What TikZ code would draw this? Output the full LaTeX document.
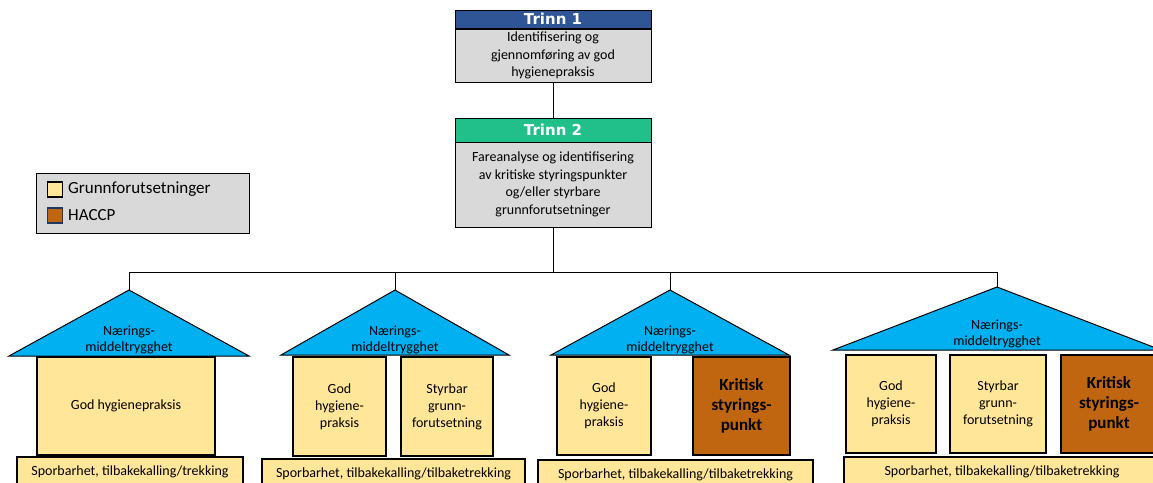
\documentclass[tikz,border=0pt]{standalone}
\usepackage{fontspec}
\setmainfont{Carlito}
\newfontfamily\trinnfont{DejaVu Sans}
\definecolor{trinnblue}{RGB}{47,85,151}
\definecolor{trinngreen}{RGB}{33,192,139}
\definecolor{boxgray}{RGB}{217,217,217}
\definecolor{roofblue}{RGB}{0,176,240}
\definecolor{gpyellow}{RGB}{255,230,153}
\definecolor{ccpbrown}{RGB}{192,102,16}
\definecolor{keynavy}{RGB}{31,56,100}

\begin{document}
\begin{tikzpicture}[x=1pt, y=-1pt,
    header/.style={draw=black, line width=1pt, minimum width=196pt,
        inner sep=0pt, text=white, font=\trinnfont\bfseries\fontsize{15}{16}\selectfont},
    trinnbox/.style={draw=black, line width=1pt, fill=boxgray, minimum width=196pt,
        inner sep=0pt, align=center, font=\fontsize{14}{17.5}\selectfont},
    gpbox/.style={draw=black, line width=1.2pt, fill=gpyellow, inner sep=0pt,
        align=center, font=\fontsize{14}{17}\selectfont},
    ccpbox/.style={draw=black, line width=1.2pt, fill=ccpbrown, inner sep=0pt,
        align=center, font=\bfseries\fontsize{17}{20}\selectfont},
    basebar/.style={draw=black, line width=1.2pt, fill=gpyellow, minimum height=30pt,
        inner sep=0pt, font=\fontsize{14}{17}\selectfont},
    roof/.style={draw=black, line width=1pt, fill=roofblue},
    rooftext/.style={align=center, inner sep=0pt, font=\fontsize{14}{16.5}\selectfont},
    keybox/.style={line width=1.2pt, minimum size=15pt, inner sep=0pt},
    keytext/.style={anchor=west, inner sep=0pt, font=\fontsize{17}{18}\selectfont},
    edge/.style={line width=1pt, -}
]
    \useasboundingbox (0,0) rectangle (1153,482);
    \clip (0,0) rectangle (1153,482);

    \node[header, fill=trinnblue, minimum height=18pt] (t1head) at (553,19) {Trinn 1};
    \node[trinnbox, minimum height=53pt] (t1body) at (553,55.5)
        {Identifisering og\\gjennomføring av god\\hygienepraksis};
    \node[header, fill=trinngreen, minimum height=24pt] (t2head) at (553,130) {Trinn 2};
    \node[trinnbox, minimum height=85pt] (t2body) at (553,184.5)
        {Fareanalyse og identifisering\\av kritiske styringspunkter\\og/eller styrbare\\grunnforutsetninger};

    \node[draw=black, line width=1pt, fill=boxgray, minimum width=213pt,
        minimum height=60pt] (legend) at (142.5,203) {};
    \node[keybox, draw=black, fill=gpyellow] (keygp) at (55,189.5) {};
    \node[keytext] (keygptext) at (68,189.5) {Grunnforutsetninger};
    \node[keybox, draw=keynavy, fill=ccpbrown] (keyccp) at (55,215.5) {};
    \node[keytext] (keyccptext) at (68,215.5) {HACCP};

    \coordinate (hub) at (553,272);
    \coordinate (apex1) at (129,290);
    \coordinate (apex2) at (395,290);
    \coordinate (apex3) at (670,290);
    \coordinate (apex4) at (997,287);

    \draw[roof] (apex1) -- ++(120,66) -- ++(-240,0) -- cycle;
    \draw[roof] (apex2) -- ++(114,65) -- ++(-228,0) -- cycle;
    \draw[roof] (apex3) -- ++(119,65) -- ++(-238,0) -- cycle;
    \draw[roof] (apex4) -- ++(164,63) -- ++(-328,0) -- cycle;

    \node[gpbox, minimum width=178pt, minimum height=98pt] (gp1) at (126,406) {God hygienepraksis};

    \node[gpbox, minimum width=93pt, minimum height=99pt] (gp2) at (339.5,406.5) {God\\hygiene-\\praksis};
    \node[gpbox, minimum width=92pt, minimum height=99pt] (sgp2) at (447,406.5) {Styrbar\\grunn-\\forutsetning};

    \node[gpbox, minimum width=94pt, minimum height=98pt] (gp3) at (604,406) {God\\hygiene-\\praksis};
    \node[ccpbox, minimum width=97pt, minimum height=98pt] (ccp3) at (741.5,406) {Kritisk\\styrings-\\punkt};

    \node[gpbox, minimum width=90pt, minimum height=98pt] (gp4) at (891,404) {God\\hygiene-\\praksis};
    \node[gpbox, minimum width=96pt, minimum height=98pt] (sgp4) at (998,404) {Styrbar\\grunn-\\forutsetning};
    \node[ccpbox, minimum width=96pt, minimum height=98pt] (ccp4) at (1109,404) {Kritisk\\styrings-\\punkt};

    \node[basebar, minimum width=226pt] (bar1) at (130,472) {Sporbarhet, tilbakekalling/trekking};
    \node[basebar, minimum width=263pt] (bar2) at (393.5,474) {Sporbarhet, tilbakekalling/tilbaketrekking};
    \node[basebar, minimum width=275pt] (bar3) at (675.5,475) {Sporbarhet, tilbakekalling/tilbaketrekking};
    \node[basebar, minimum width=316pt] (bar4) at (1002,472) {Sporbarhet, tilbakekalling/tilbaketrekking};

    \node[rooftext] (safe1) at (129,340) {Nærings-\\middeltrygghet};
    \node[rooftext] (safe2) at (395,340) {Nærings-\\middeltrygghet};
    \node[rooftext] (safe3) at (670,340) {Nærings-\\middeltrygghet};
    \node[rooftext] (safe4) at (997,334) {Nærings-\\middeltrygghet};

    \draw[edge] (t1body) -- (t2head);
    \draw[edge] (t2body) -- (hub);
    \draw[edge] (apex1) -- (apex1 |- hub) -- (apex4 |- hub) -- (apex4);
    \draw[edge] (apex2) -- (apex2 |- hub);
    \draw[edge] (apex3) -- (apex3 |- hub);
\end{tikzpicture}
\end{document}
